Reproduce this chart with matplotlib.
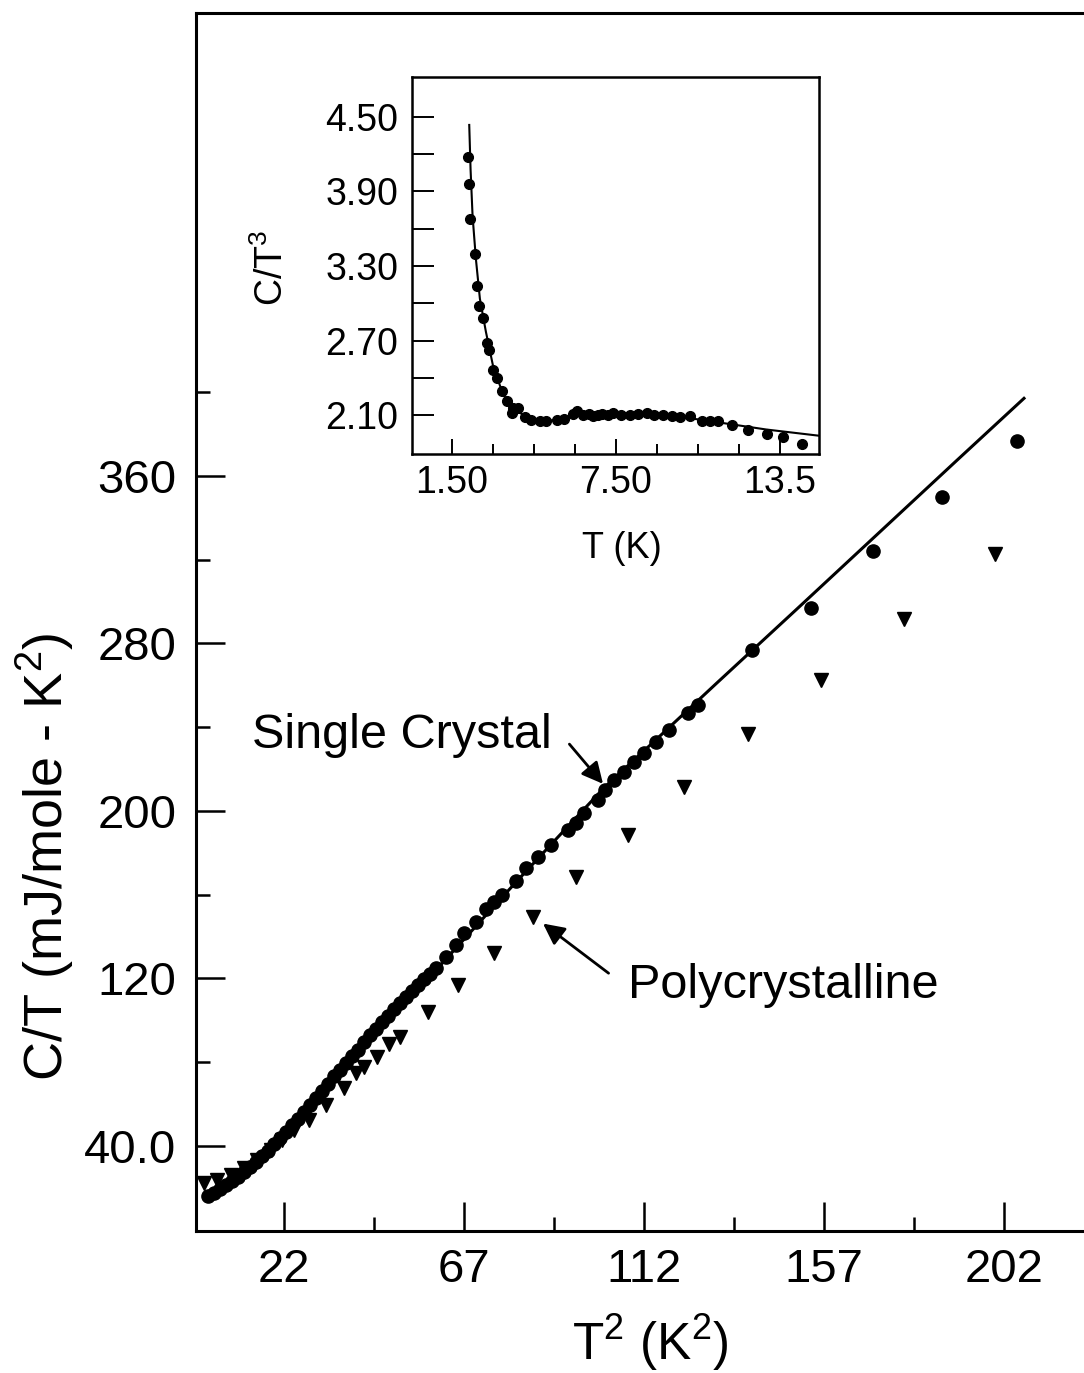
import matplotlib
matplotlib.use("Agg")
import matplotlib.pyplot as plt

plt.rcParams.update({
    "font.family": "Liberation Sans",
    "mathtext.fontset": "custom",
    "mathtext.rm": "Liberation Sans",
    "mathtext.it": "Liberation Sans",
    "mathtext.default": "regular",
})

# ---- main panel data: C/T vs T^2 ----
single_T2 = [3.0, 4.5, 6.0, 7.5, 9.0, 10.5, 12.0, 13.5, 15.0, 16.5, 18.0, 19.5, 21.0, 22.5,
             24.0, 25.5, 27.0, 28.5, 30.0, 31.5, 33.0, 34.5, 36.0, 37.5, 39.0, 40.5, 42.0,
             43.5, 45.0, 46.5, 48.0, 49.5, 51.0, 52.5, 54.0, 55.5, 57.0, 58.5, 60.0, 62.4,
             65.0, 67.0, 69.9, 72.4, 74.5, 76.6, 79.9, 82.5, 85.4, 88.7, 92.9, 94.9, 97.0,
             100.4, 102.2, 104.5, 107.0, 109.5, 112.0, 114.9, 118.3, 122.9, 125.4, 139.1,
             153.7, 169.3, 186.6, 205.2]
single_CT = [16.3, 17.6, 19.3, 21.2, 23.2, 25.4, 27.7, 30.0, 32.5, 35.0, 37.8, 40.9, 44.0, 46.8,
             49.9, 53.1, 56.4, 59.6, 63.0, 66.3, 69.6, 73.4, 76.5, 79.6, 83.0, 86.0, 89.5,
             92.8, 96.0, 99.0, 102.2, 105.3, 108.1, 111.2, 114.0, 116.9, 119.5, 122.3, 125.0, 130.4,
             135.8, 141.5, 147.1, 153.0, 156.5, 159.9, 166.5, 172.5, 178.2, 183.5, 190.9, 194.1, 198.9,
             205.2, 210.0, 214.8, 218.8, 223.5, 227.5, 233.1, 238.7, 246.6, 250.8, 276.9,
             297.1, 324.3, 349.8, 376.8]

poly_T2 = [2.0, 5.3, 8.7, 12.0, 15.3, 18.7, 21.6, 24.5, 28.3, 32.4, 37.0, 39.9, 42.0, 45.3,
           48.3, 50.9, 58.0, 65.6, 74.4, 84.3, 95.1, 107.9, 121.9, 138.1, 156.2, 177.0, 199.7]
poly_CT = [22.2, 23.8, 26.2, 29.3, 33.3, 38.1, 42.9, 47.6, 52.4, 59.6, 67.6, 74.7, 77.9, 82.3,
           88.6, 92.2, 104.1, 116.9, 132.0, 149.5, 168.6, 188.5, 211.3, 236.8, 262.5, 291.5, 322.6]

fit_T2 = [3, 6, 10, 14, 18, 22, 26, 30, 35, 40, 50, 60, 70, 80, 90, 102, 115, 130, 150, 170, 190, 207]
fit_CT = [16.5, 19.3, 24.7, 30.6, 37.5, 45.2, 53.5, 62.0, 72.5, 83.0, 103.5, 124.0, 145.0, 166.0,
          186.5, 211.0, 234.0, 260.7, 296.0, 331.5, 367.0, 397.0]

main_yticks = [40, 120, 200, 280, 360]
main_yticklabels = ["40.0", "120", "200", "280", "360"]
main_yminor = [80, 160, 240, 320, 400]
main_xticks = [22, 67, 112, 157, 202]
main_xticklabels = ["22", "67", "112", "157", "202"]
main_xminor = [44.5, 89.5, 134.5, 179.5]

# ---- inset data: C/T^3 vs T ----
inset_T = [2.10, 2.13, 2.18, 2.34, 2.40, 2.50, 2.65, 2.79, 2.85, 3.01, 3.14, 3.32, 3.50, 3.69,
           3.75, 3.93, 4.17, 4.40, 4.72, 4.95, 5.33, 5.60, 5.94, 6.07, 6.30, 6.50, 6.68, 6.85,
           7.00, 7.20, 7.41, 7.70, 8.02, 8.30, 8.63, 8.90, 9.24, 9.55, 9.85, 10.22, 10.65,
           10.95, 11.25, 11.75, 12.35, 13.03, 13.61, 14.31]
inset_CT3 = [4.18, 3.96, 3.68, 3.40, 3.14, 2.98, 2.88, 2.68, 2.62, 2.46, 2.40, 2.29, 2.21, 2.12,
             2.16, 2.16, 2.08, 2.06, 2.05, 2.05, 2.06, 2.07, 2.11, 2.13, 2.10, 2.11, 2.09, 2.10,
             2.11, 2.10, 2.12, 2.10, 2.10, 2.11, 2.12, 2.10, 2.10, 2.09, 2.08, 2.09, 2.05,
             2.05, 2.055, 2.02, 1.98, 1.95, 1.92, 1.87]
inset_fit_T = [2.134, 2.183, 2.256, 2.378, 2.524, 2.744, 3.01, 3.38, 3.87, 4.47, 5.09, 5.94,
               6.92, 8.13, 9.35, 10.57, 11.79, 13.01, 14.90]
inset_fit_CT3 = [4.436, 4.076, 3.703, 3.356, 3.036, 2.77, 2.49, 2.262, 2.13, 2.063, 2.055, 2.09,
                 2.108, 2.116, 2.097, 2.063, 2.023, 1.983, 1.934]

inset_yticks = [2.10, 2.70, 3.30, 3.90, 4.50]
inset_yticklabels = ["2.10", "2.70", "3.30", "3.90", "4.50"]
inset_yminor = [2.40, 3.00, 3.60, 4.20]
inset_xticks = [1.5, 7.5, 13.5]
inset_xticklabels = ["1.50", "7.50", "13.5"]
inset_xminor = [3.0, 4.5, 6.0, 9.0, 10.5, 12.0]

W, H = 1084, 1373


def main() -> None:
    fig = plt.figure(figsize=(W / 100, H / 100), dpi=100)

    # Main axes (right spine falls just outside the picture)
    ax = fig.add_axes([196 / W, 1 - 1231 / H, 900 / W, 1218 / H])
    ax.set_xlim(0, 225)
    ax.set_ylim(-0.6, 581)
    ax.plot(fit_T2, fit_CT, color="black", lw=2.2, zorder=2)
    ax.plot(single_T2, single_CT, "o", color="black", ms=9.5, zorder=3)
    ax.plot(poly_T2, poly_CT, "v", color="black", ms=10.5, zorder=3)

    ax.set_xticks(main_xticks)
    ax.set_xticklabels(main_xticklabels)
    ax.set_xticks(main_xminor, minor=True)
    ax.set_yticks(main_yticks)
    ax.set_yticklabels(main_yticklabels)
    ax.set_yticks(main_yminor, minor=True)
    ax.tick_params(which="both", direction="in", width=1.8, labelsize=34)
    ax.tick_params(which="major", length=21)
    ax.tick_params(which="minor", length=10)
    ax.tick_params(axis="x", pad=12)
    ax.tick_params(axis="y", pad=14)
    for sp in ax.spines.values():
        sp.set_linewidth(2.2)

    fig.text(650 / W, 1 - 1343 / H, r"T$^{2}$ (K$^{2}$)", fontsize=37, ha="center", va="center")
    fig.text(45 / W, 1 - 857 / H, r"C/T (mJ/mole - K$^{2}$)", fontsize=39, rotation=90,
             ha="center", va="center")

    # Annotations
    ax.text(14.0, 236, "Single Crystal", fontsize=35, ha="left", va="center")
    ax.annotate("", xy=(102.2, 211.9), xytext=(92.9, 232.9),
                arrowprops=dict(arrowstyle="-|>", color="black", lw=2.0, mutation_scale=32))
    ax.text(107.9, 116.4, "Polycrystalline", fontsize=35, ha="left", va="center")
    ax.annotate("", xy=(86.2, 147.0), xytext=(103.7, 121.7),
                arrowprops=dict(arrowstyle="-|>", color="black", lw=2.0, mutation_scale=32))

    # Inset
    axi = fig.add_axes([412 / W, 1 - 454 / H, 407 / W, 377 / H])
    axi.set_xlim(0.04, 14.93)
    axi.set_ylim(1.786, 4.822)
    axi.plot(inset_fit_T, inset_fit_CT3, color="black", lw=1.5, zorder=2)
    axi.plot(inset_T, inset_CT3, "o", color="black", ms=7, zorder=3)
    axi.set_xticks(inset_xticks)
    axi.set_xticklabels(inset_xticklabels)
    axi.set_xticks(inset_xminor, minor=True)
    axi.set_yticks(inset_yticks)
    axi.set_yticklabels(inset_yticklabels)
    axi.set_yticks(inset_yminor, minor=True)
    axi.tick_params(which="both", direction="in", width=1.4, labelsize=27)
    axi.tick_params(axis="y", which="both", length=16, pad=10)
    axi.tick_params(axis="x", which="major", length=11, pad=8)
    axi.tick_params(axis="x", which="minor", length=7)
    for sp in axi.spines.values():
        sp.set_linewidth(1.8)
    fig.text(272 / W, 1 - 268 / H, r"C/T$^{3}$", fontsize=27, rotation=90, ha="center", va="center")
    fig.text(622 / W, 1 - 548 / H, "T (K)", fontsize=26, ha="center", va="center")

    fig.savefig("out.png", dpi=100)
    plt.close(fig)


if __name__ == "__main__":
    main()
